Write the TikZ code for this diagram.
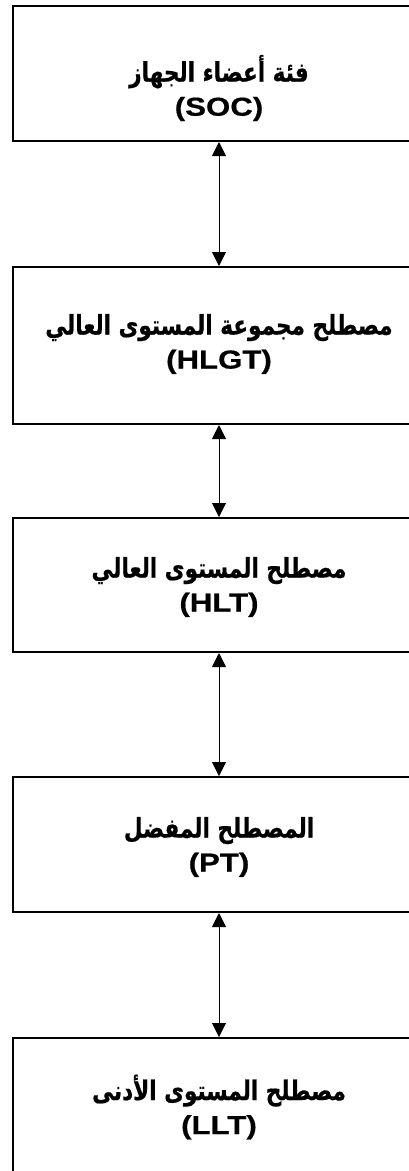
\documentclass[tikz,border=0pt]{standalone}
\usepackage{fontspec}
\usetikzlibrary{arrows.meta}
\TeXXeTstate=1
\setmainfont{Liberation Sans}
\newfontfamily\latinfont[FakeStretch=1.2,FakeBold=0.6]{Liberation Sans}
\newfontfamily\arabicfont[Script=Arabic,FakeStretch=0.8,FakeBold=0.6]{DejaVu Sans}
\newcommand\artxt[1]{{\arabicfont\bfseries\fontsize{27}{34}\selectfont\beginR #1\endR}}
\newcommand\latxt[1]{{\latinfont\bfseries\fontsize{26}{34}\selectfont #1}}
\begin{document}
\begin{tikzpicture}[x=1pt,y=1pt,
  levelbox/.style={draw=black, line width=2pt, rectangle, minimum width=412pt, inner sep=0pt},
  leveltext/.style={align=center, inner sep=0pt, font=\fontsize{26}{34}\selectfont},
  link/.style={line width=1pt, {Triangle[length=14pt,width=14pt]}-{Triangle[length=14pt,width=14pt]}}]
\useasboundingbox (0,0) rectangle (409,-1171);
\clip (0,0) rectangle (409,-1171);
\node[levelbox, minimum height=135pt] (b1) at (219,-73.5) {};
\node[levelbox, minimum height=157pt] (b2) at (219,-345.5) {};
\node[levelbox, minimum height=134pt] (b3) at (219,-585) {};
\node[levelbox, minimum height=135pt] (b4) at (219,-844.5) {};
\node[levelbox, minimum height=140pt] (b5) at (219,-1108) {};
\node[leveltext] (t1) at (219,-88) {\artxt{فئة أعضاء الجهاز}\\\latxt{(SOC)}};
\node[leveltext] (t2) at (219,-344) {\artxt{مصطلح مجموعة المستوى العالي}\\\latxt{(HLGT)}};
\node[leveltext] (t3) at (219,-587) {\artxt{مصطلح المستوى العالي}\\\latxt{(HLT)}};
\node[leveltext] (t4) at (219,-847) {\artxt{المصطلح المفضل}\\\latxt{(PT)}};
\node[leveltext] (t5) at (219,-1107) {\artxt{مصطلح المستوى الأدنى}\\\latxt{(LLT)}};
\draw[link] (b1.south) -- (b2.north);
\draw[link] (b2.south) -- (b3.north);
\draw[link] (b3.south) -- (b4.north);
\draw[link] (b4.south) -- (b5.north);
\end{tikzpicture}
\end{document}
